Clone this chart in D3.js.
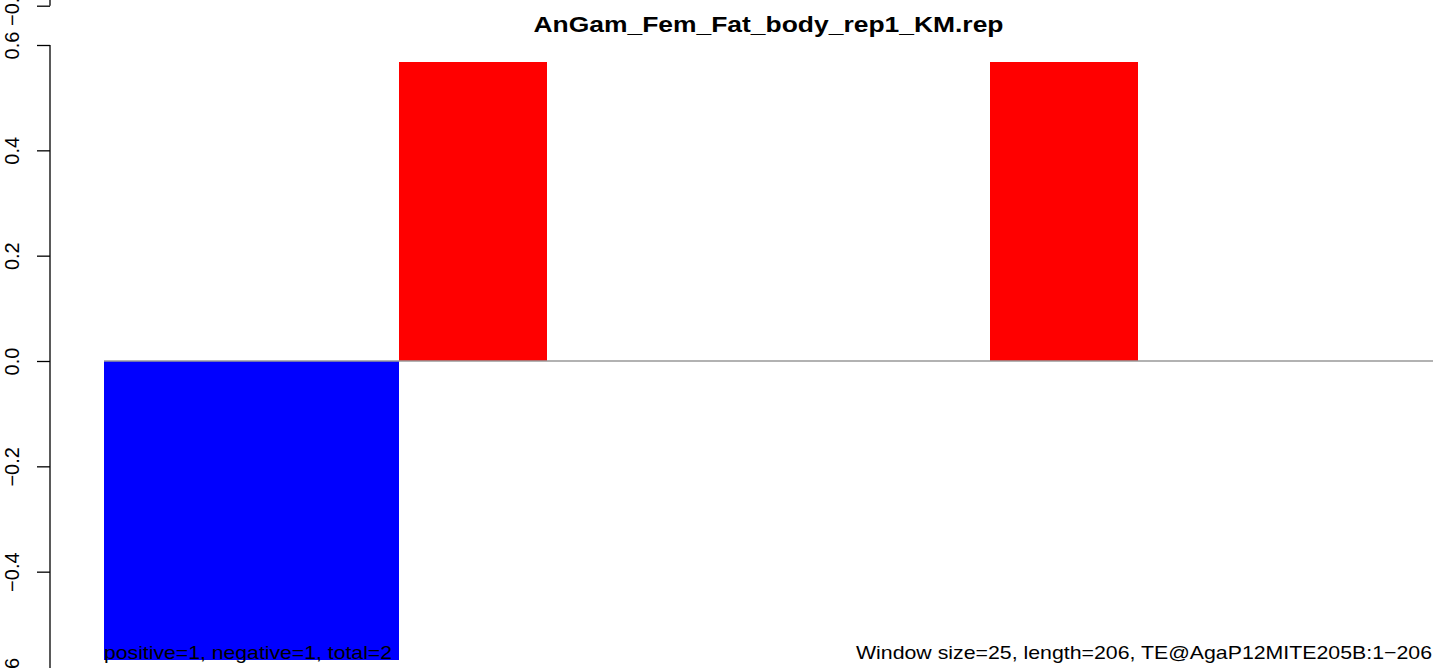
<!DOCTYPE html>
<html>
<head>
<meta charset="utf-8">
<script src="https://cdn.jsdelivr.net/npm/d3@7"></script>
<style>
html,body{margin:0;padding:0;background:#fff;}
svg{display:block;}
text{font-family:"Liberation Sans",Arial,Helvetica,sans-serif;}
</style>
</head>
<body>
<svg id="chart" width="1444" height="668"></svg>
<script>
// ---- data ----
const title = "AnGam_Fem_Fat_body_rep1_KM.rep";
const windowSize = 25;
const windowStarts = [0, 25, 50, 75, 100, 125, 150, 175, 200];
const windowValues = [-0.567, -0.567, 0.567, 0, 0, 0, 0.567, 0, 0];
const yTicks = [-0.6, -0.4, -0.2, 0.0, 0.2, 0.4, 0.6];
const upperPanelTicks = [-0.6];
const leftNote = "positive=1, negative=1, total=2";
const rightNote = "Window size=25, length=206, TE@AgaP12MITE205B:1\u2212206";

// ---- layout ----
const svg = d3.select("#chart");
const plotLeft = 104, plotRight = 1433;
const axisX = 50;

const x = d3.scaleLinear().domain([0, 225]).range([plotLeft, plotRight]);
const y = d3.scaleLinear().domain([-0.6, 0.6]).range([677, 45]);
// fragment of the panel above (only its lowest tick is visible)
const yUpper = d3.scaleLinear().domain([-0.6, 0.6]).range([5.7, -626.3]);

// bars
const bars = windowStarts.map((s, i) => ({start: s, end: s + windowSize, v: windowValues[i]}))
  .filter(d => d.v !== 0);
svg.append("g").selectAll("rect").data(bars).join("rect")
  .attr("x", d => x(d.start))
  .attr("width", d => x(d.end) - x(d.start))
  .attr("y", d => y(Math.max(0, d.v)))
  .attr("height", d => Math.abs(y(d.v) - y(0)))
  .attr("fill", d => d.v < 0 ? "#0000FF" : "#FF0000")
  .attr("shape-rendering", "crispEdges");

// zero line
svg.append("line")
  .attr("x1", x(0)).attr("x2", x(225))
  .attr("y1", y(0)).attr("y2", y(0))
  .attr("stroke", "#999").attr("stroke-width", 1.4);

// y axes
function drawAxis(scale, ticks) {
  const g = svg.append("g").attr("transform", `translate(${axisX},0)`)
    .call(d3.axisLeft(scale).tickValues(ticks).tickSize(13).tickPadding(0)
      .tickFormat(d => d3.format(".1f")(d).replace("-", "\u2212")));
  g.select(".domain").remove();
  g.selectAll(".tick line").attr("stroke", "#000").attr("stroke-width", 1.3);
  g.selectAll(".tick text")
    .attr("x", 0).attr("dy", null)
    .attr("transform", "translate(-31,0) rotate(-90)")
    .attr("text-anchor", "middle")
    .attr("font-size", 20)
    .attr("fill", "#000");
  svg.append("line")
    .attr("x1", axisX).attr("x2", axisX)
    .attr("y1", scale(d3.min(ticks))).attr("y2", scale(0.6))
    .attr("stroke", "#000").attr("stroke-width", 1.3);
}
drawAxis(y, yTicks);
drawAxis(yUpper, upperPanelTicks);

// title
svg.append("text")
  .attr("x", (plotLeft + plotRight) / 2).attr("y", 32)
  .attr("text-anchor", "middle")
  .attr("font-size", 21.5).attr("font-weight", "bold")
  .attr("textLength", 470).attr("lengthAdjust", "spacingAndGlyphs")
  .text(title);

// notes
svg.append("text")
  .attr("x", plotLeft).attr("y", 659)
  .attr("font-size", 18.5)
  .attr("textLength", 288).attr("lengthAdjust", "spacingAndGlyphs")
  .text(leftNote);
svg.append("text")
  .attr("x", 1432).attr("y", 659)
  .attr("text-anchor", "end")
  .attr("font-size", 18.5)
  .attr("textLength", 576).attr("lengthAdjust", "spacingAndGlyphs")
  .text(rightNote);
</script>
</body>
</html>
